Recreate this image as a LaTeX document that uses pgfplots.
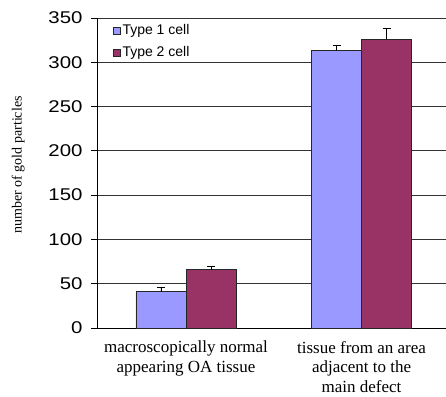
\documentclass[border=0pt]{standalone}
\usepackage{fontspec}
\setmainfont{Liberation Serif}
\newfontfamily\arial{Liberation Sans}
\usepackage{graphicx}
\usepackage{pgfplots}
\pgfplotsset{compat=1.18}
\definecolor{bluebar}{HTML}{9999FF}
\definecolor{redbar}{HTML}{993366}
\pgfplotsset{barleg/.style={legend image code/.code={\draw[##1, line width=0.6pt] (0pt,-3.5pt) rectangle (7pt,3.5pt);}}}
\begin{document}
\begin{tikzpicture}
\begin{axis}[
  name=ax,
  scale only axis, width=349pt, height=310pt,
  xmin=-0.507, xmax=1.481, ymin=0, ymax=350,
  axis x line=bottom, axis y line=left,
  axis line style={-, black, line width=0.8pt},
  ytick={0,50,...,350},
  ymajorgrids, grid style={black!80, line width=0.8pt},
  tick align=outside, major tick length=6pt,
  ytick style={black, line width=0.8pt},
  xtick={0,1}, xtick style={draw=none},
  xticklabels={{macroscopically normal\\appearing OA tissue},{tissue from an area\\adjacent to the\\main defect}},
  xticklabel style={align=center, font=\fontsize{17}{19.5}\selectfont, yshift=-3.5pt},
  /pgf/number format/assume math mode=true,
  yticklabel style={font=\arial\fontsize{17}{20}\selectfont, xshift=-5pt},
  yticklabel={\scalebox{1.2}[1]{\pgfmathprintnumber{\tick}}},
  ylabel={number of gold particles},
  ylabel style={at={(rel axis cs:-0.226,0.526)}, anchor=center, font=\fontsize{14}{16}\selectfont},
  legend style={at={(rel axis cs:0.045,0.985)}, anchor=north west, draw=none, fill=white,
    inner sep=0pt, font=\arial\fontsize{14}{16}\selectfont, row sep=6pt,
    nodes={inner sep=2pt}},
  legend cell align=left,
]
\addplot[ybar, barleg, bar width=0.285, bar shift=0pt, fill=bluebar, draw=black!85, line width=0.8pt,
  error bars/.cd, y dir=plus, y explicit,
  error bar style={black, line width=0.8pt},
  error mark options={rotate=90, mark size=4pt, black, line width=0.8pt}]
  coordinates {(-0.1425,41) +- (0,5) (0.8575,313) +- (0,6)};
\addplot[ybar, barleg, bar width=0.285, bar shift=0pt, fill=redbar, draw=black!85, line width=0.8pt,
  error bars/.cd, y dir=plus, y explicit,
  error bar style={black, line width=0.8pt},
  error mark options={rotate=90, mark size=4pt, black, line width=0.8pt}]
  coordinates {(0.1425,66) +- (0,4) (1.1425,326) +- (0,12)};
\legend{Type 1 cell, Type 2 cell}
\end{axis}
\pgfresetboundingbox
\path ([shift={(-97pt,-68pt)}]ax.south west) rectangle ++(446pt,396pt);
\end{tikzpicture}
\end{document}
